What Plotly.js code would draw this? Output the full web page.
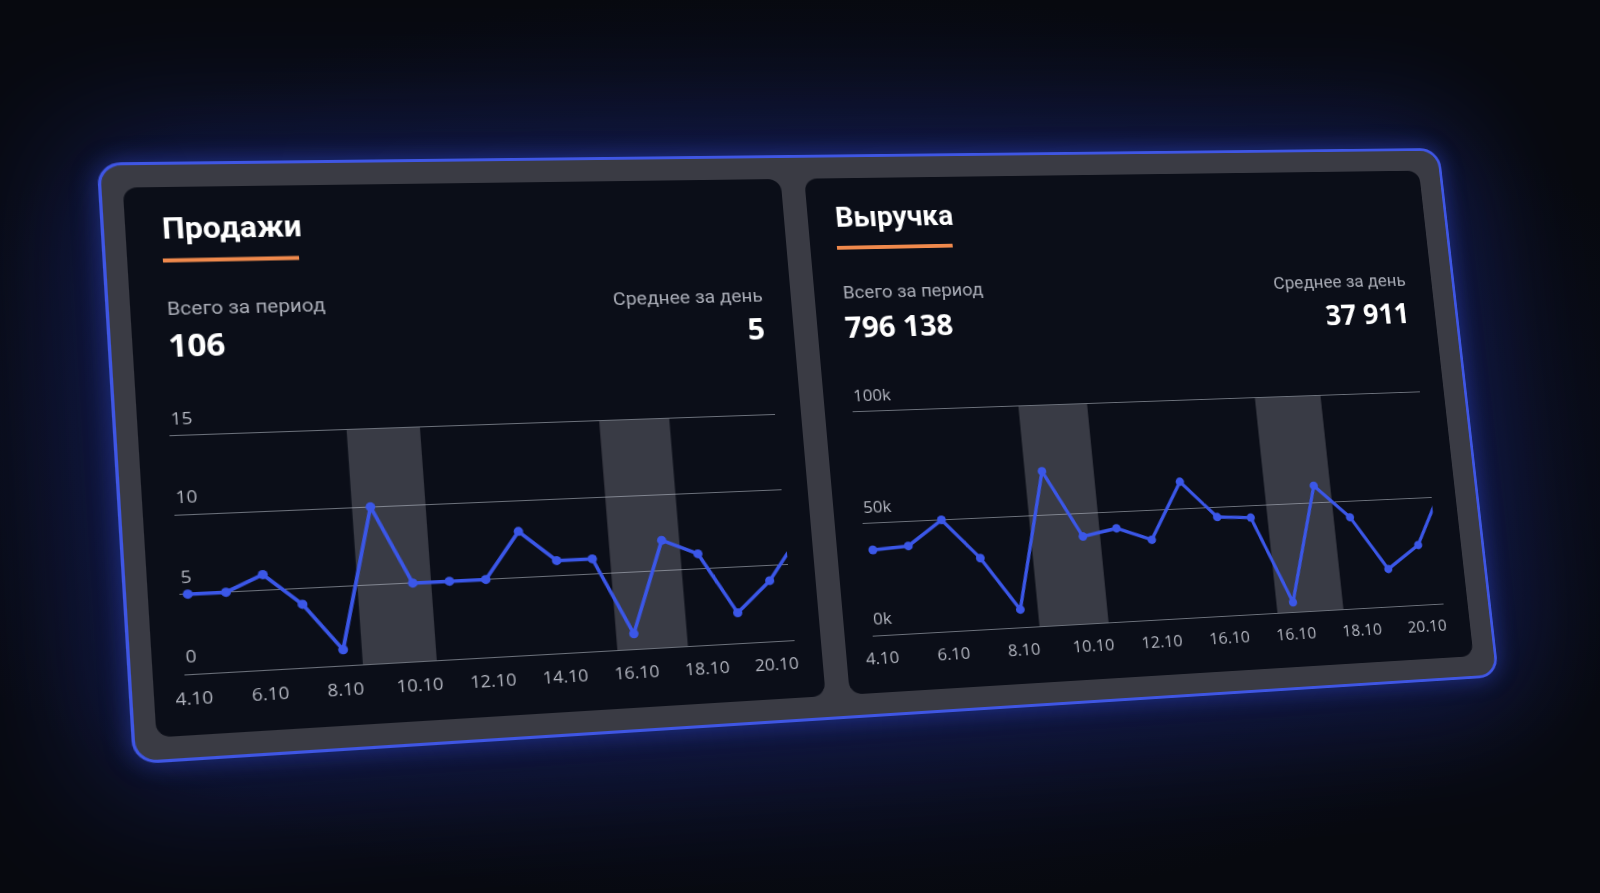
<!DOCTYPE html>
<html><head><meta charset="utf-8">
<script src="https://cdn.plot.ly/plotly-3.0.1.min.js"></script>
<style>
html,body{margin:0;padding:0;width:1600px;height:893px;overflow:hidden;background:#080a15;}
#bg{position:absolute;left:0;top:0;width:1600px;height:893px;
 background:radial-gradient(ellipse 950px 460px at 800px 450px,#111837 0%,#0b0f24 50%,#07090f 100%);}
#board{position:absolute;left:0;top:0;width:1360px;height:580px;transform-origin:0 0;}
#frame{position:absolute;left:0;top:0;width:1360px;height:580px;box-sizing:border-box;
 border:3px solid #3f56e4;border-radius:22px;background:#3a3b44;
 box-shadow:0 0 22px 2px rgba(60,90,255,0.35),0 0 120px 34px rgba(35,55,190,0.30);}
.panel{position:absolute;background:#0b0e18;border-radius:13px;top:25px;height:531px;}
#p1{left:22px;width:626px;}
#p2{left:672px;width:662px;}
#plot{position:absolute;left:0;top:0;width:1360px;height:580px;}
</style></head><body>
<div id="bg"></div>
<div id="board"><div id="frame"></div><div class="panel" id="p1"></div><div class="panel" id="p2"></div><div id="plot"></div></div>
<script>
// ---- data ----
const days = [4,5,6,7,8,9,10,11,12,13,14,15,16,17,18,19,20,21];
const salesValues = [5,5,6,4,1,10,5,5,5,8,6,6,1,7,6,2,4,7];
const revenueValues = [38000,39000,50000,32000,8000,70000,39500,42500,36500,62500,45500,44500,4500,58000,42500,17500,28000,57000];
const tickDays = [4,6,8,10,12,14,16,18,20];
const salesTickText = ['4.10','6.10','8.10','10.10','12.10','14.10','16.10','18.10','20.10'];
const revenueTickText = ['4.10','6.10','8.10','10.10','12.10','16.10','16.10','18.10','20.10'];
const weekendStart = [8.5,15.5];
const weekendEnd = [10.5,17.5];
const salesYTicks = [0,5,10,15];
const salesYText = ['0','5','10','15'];
const revenueYTicks = [0,50000,100000];
const revenueYText = ['0k','50k','100k'];
const panelTitles = ['Продажи','Выручка'];
const totalLabel = 'Всего за период';
const avgLabel = 'Среднее за день';
const totals = ['106','796 138'];
const averages = ['5','37 911'];

// ---- perspective of the board ----
const W = 1360, H = 580;
function quadMatrix(pts){
  const [x0,y0]=pts[0],[x1,y1]=pts[1],[x2,y2]=pts[2],[x3,y3]=pts[3];
  const dx1=x1-x2, dx2=x3-x2, sx=x0-x1+x2-x3;
  const dy1=y1-y2, dy2=y3-y2, sy=y0-y1+y2-y3;
  const den=dx1*dy2-dx2*dy1;
  const g=(sx*dy2-dx2*sy)/den, h=(dx1*sy-sx*dy1)/den;
  const a=x1-x0+g*x1, b=x3-x0+h*x3, c=x0, d=y1-y0+g*y1, e=y3-y0+h*y3, f=y0;
  return 'matrix3d('+[a/W,d/W,0,g/W,b/H,e/H,0,h/H,0,0,1,0,c,f,0,1].join(',')+')';
}
document.getElementById('board').style.transform =
  quadMatrix([[96.6,162.5],[1439,148],[1499,677],[133,764.5]]);

const U = u => u/W, V = v => 1 - v/H;
const FONT = '"Open Sans", "Noto Sans", sans-serif';
const TFONT = 'Roboto, "Open Sans", sans-serif';
const lineColor = '#3b57e8';
const gridColor = 'rgba(190,194,205,0.55)';
const tickFont = {family: FONT, size: 17, color: '#b4b7c1'};

function series(xa, ya, vals){
  return {x: days, y: vals, xaxis: xa, yaxis: ya, type: 'scatter', mode: 'lines+markers',
    line: {color: lineColor, width: 3.5}, marker: {color: lineColor, size: 9},
    cliponaxis: true, hoverinfo: 'skip'};
}
const traces = [series('x','y',salesValues), series('x2','y2',revenueValues)];

const plotTop = 267, plotBottom = 500;
const leftDom = [U(50), U(622)], rightDom = [U(700), U(1306.6)];
function xAxis(dom, txt, anchor){
  return {domain: dom, anchor: anchor, range: [3.78, 20.57], tickvals: tickDays, ticktext: txt,
    showgrid: false, zeroline: false, showline: false, ticks: '', tickfont: tickFont,
    ticklabelstandoff: 9, automargin: false, fixedrange: true};
}
function yAxis(anchor, range, vals){
  return {anchor: anchor, domain: [V(plotBottom), V(plotTop)], range: range, tickvals: vals,
    showgrid: true, gridcolor: gridColor, gridwidth: 1, zeroline: false, showline: false, ticks: '',
    showticklabels: false, automargin: false, fixedrange: true};
}

const shapes = [];
weekendStart.forEach((s,i) => {
  shapes.push({type:'rect', xref:'x', yref:'y', x0:s, x1:weekendEnd[i], y0:0, y1:15,
    fillcolor:'#393b45', line:{width:0}, layer:'below'});
  shapes.push({type:'rect', xref:'x2', yref:'y2', x0:s, x1:weekendEnd[i], y0:0, y1:100000,
    fillcolor:'#393b45', line:{width:0}, layer:'below'});
});
// orange underlines
shapes.push({type:'line', xref:'paper', yref:'paper', x0:U(54), x1:U(178), y0:V(97.5), y1:V(97.5),
  line:{color:'#f0894c', width:4}});
shapes.push({type:'line', xref:'paper', yref:'paper', x0:U(699), x1:U(818), y0:V(98), y1:V(98),
  line:{color:'#f0894c', width:4}});

function ann(text, u, base, size, color, weight, anchor, fam){
  return {text: text, xref:'paper', yref:'paper', x: U(u), y: V(base + 0.293*size + 1),
    xanchor: anchor, yanchor: 'bottom', showarrow: false,
    font: {family: fam || FONT, size: size, color: color, weight: weight}};
}
const annotations = [
  ann(panelTitles[0], 53, 75.8, 29, '#ffffff', 700, 'left', TFONT),
  ann(panelTitles[1], 698.5, 75.8, 29, '#ffffff', 700, 'left', TFONT),
  ann(totalLabel, 52.5, 151, 19, '#aaadb7', 400, 'left', TFONT),
  ann(totalLabel, 699, 151, 19, '#aaadb7', 400, 'left', TFONT),
  ann(totals[0], 51.5, 193.5, 30, '#ffffff', 700, 'left'),
  ann(totals[1], 698.5, 193.5, 30, '#ffffff', 700, 'left'),
  ann(avgLabel, 622, 152, 19, '#aaadb7', 400, 'right', TFONT),
  ann(avgLabel, 1307, 152.5, 19, '#aaadb7', 400, 'right', TFONT),
  ann(averages[0], 621, 192.5, 30, '#ffffff', 700, 'right'),
  ann(averages[1], 1307, 194.5, 30, '#ffffff', 700, 'right')
];
// y tick labels placed above their grid lines
function yLabels(vals, txt, ya, dom){
  vals.forEach((v,i) => annotations.push({text: txt[i], xref: 'paper', yref: ya, x: dom[0], y: v,
    xanchor: 'left', yanchor: 'bottom', yshift: 4, showarrow: false, font: tickFont}));
}
yLabels(salesYTicks, salesYText, 'y', leftDom);
yLabels(revenueYTicks, revenueYText, 'y2', rightDom);

const layout = {
  width: W, height: H, margin: {l:0, r:0, t:0, b:0},
  paper_bgcolor: 'rgba(0,0,0,0)', plot_bgcolor: 'rgba(0,0,0,0)',
  showlegend: false, font: {family: FONT},
  xaxis: xAxis(leftDom, salesTickText, 'y'),
  yaxis: yAxis('x', [-0.13, 15.13], salesYTicks),
  xaxis2: xAxis(rightDom, revenueTickText, 'y2'),
  yaxis2: yAxis('x2', [-870, 100870], revenueYTicks),
  shapes: shapes, annotations: annotations
};
Plotly.newPlot('plot', traces, layout, {displayModeBar: false, staticPlot: true});
</script>
</body></html>
